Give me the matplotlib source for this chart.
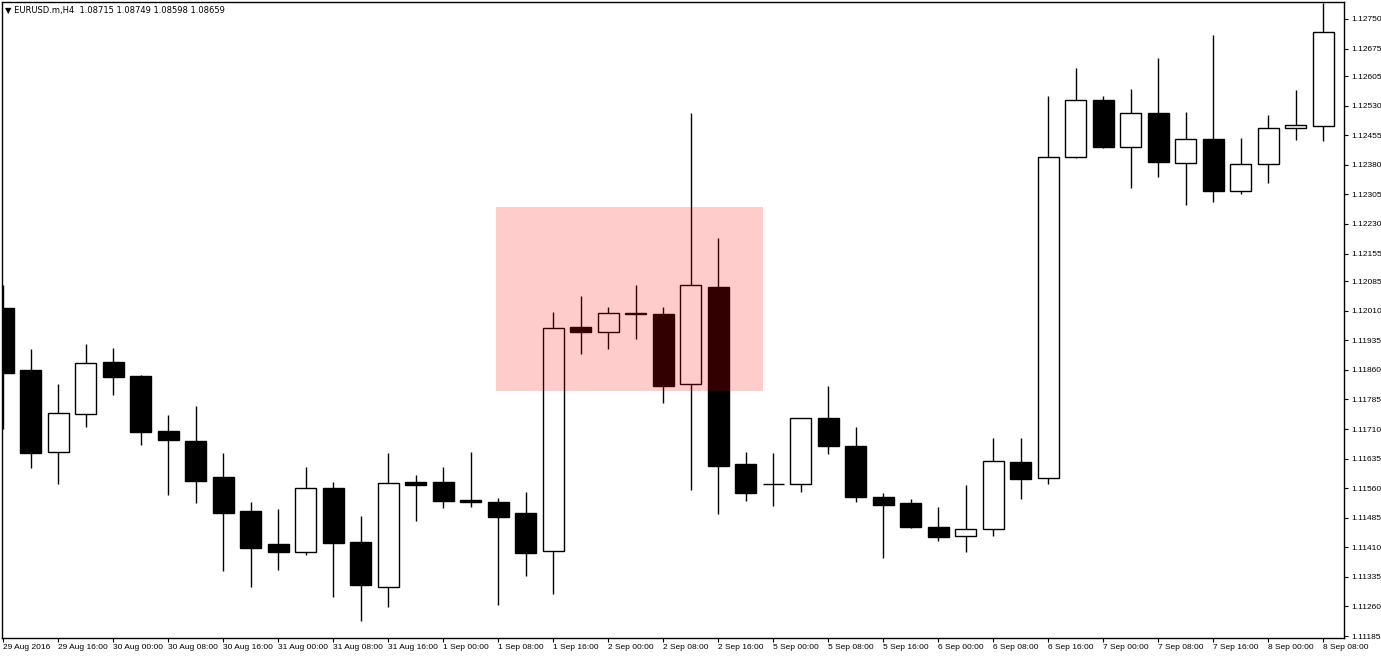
import matplotlib
matplotlib.use("Agg")
import matplotlib.pyplot as plt
from matplotlib.patches import Rectangle

# EURUSD H4 candles, 29 Aug 08:00 .. 8 Sep 08:00
opens = [1.12017, 1.11860, 1.11652, 1.11748, 1.11880, 1.11844, 1.11705, 1.11680,
         1.11588, 1.11502, 1.11418, 1.11398, 1.11560, 1.11423, 1.11309, 1.11576,
         1.11576, 1.11530, 1.11525, 1.11497, 1.11401, 1.11969, 1.11956, 1.12003,
         1.12002, 1.11824, 1.12070, 1.11621, 1.11571, 1.11571, 1.11738, 1.11667,
         1.11538, 1.11522, 1.11461, 1.11439, 1.11456, 1.11626, 1.11586, 1.12400,
         1.12545, 1.12425, 1.12512, 1.12385, 1.12446, 1.12314, 1.12382, 1.12474,
         1.12479]
highs = [1.12075, 1.11913, 1.11824, 1.11926, 1.11916, 1.11847, 1.11746, 1.11768,
         1.11649, 1.11525, 1.11507, 1.11614, 1.11576, 1.11489, 1.11649, 1.11593,
         1.11614, 1.11652, 1.11535, 1.11550, 1.12007, 1.12047, 1.12020, 1.12075,
         1.12020, 1.12512, 1.12195, 1.11652, 1.11649, 1.11738, 1.11819, 1.11715,
         1.11548, 1.11532, 1.11512, 1.11568, 1.11687, 1.11687, 1.12555, 1.12626,
         1.12555, 1.12572, 1.12651, 1.12514, 1.12709, 1.12448, 1.12506, 1.12570,
         1.12791]
lows = [1.11710, 1.11611, 1.11571, 1.11715, 1.11796, 1.11669, 1.11543, 1.11522,
        1.11350, 1.11309, 1.11352, 1.11390, 1.11284, 1.11223, 1.11259, 1.11477,
        1.11510, 1.11512, 1.11264, 1.11337, 1.11292, 1.11900, 1.11913, 1.11938,
        1.11776, 1.11555, 1.11494, 1.11527, 1.11515, 1.11550, 1.11647, 1.11525,
        1.11383, 1.11459, 1.11426, 1.11398, 1.11439, 1.11532, 1.11571, 1.12397,
        1.12423, 1.12321, 1.12349, 1.12278, 1.12286, 1.12306, 1.12334, 1.12443,
        1.12441]
closes = [1.11852, 1.11649, 1.11751, 1.11877, 1.11842, 1.11702, 1.11682, 1.11578,
          1.11497, 1.11408, 1.11398, 1.11560, 1.11421, 1.11314, 1.11573, 1.11568,
          1.11527, 1.11525, 1.11487, 1.11396, 1.11966, 1.11956, 1.12004, 1.12001,
          1.11819, 1.12075, 1.11616, 1.11548, 1.11571, 1.11738, 1.11667, 1.11538,
          1.11517, 1.11461, 1.11436, 1.11456, 1.11629, 1.11583, 1.12400, 1.12545,
          1.12425, 1.12512, 1.12387, 1.12446, 1.12314, 1.12382, 1.12474, 1.12481,
          1.12717]

# one time label every second bar
time_labels = ["29 Aug 2016", "29 Aug 16:00", "30 Aug 00:00", "30 Aug 08:00",
               "30 Aug 16:00", "31 Aug 00:00", "31 Aug 08:00", "31 Aug 16:00",
               "1 Sep 00:00", "1 Sep 08:00", "1 Sep 16:00", "2 Sep 00:00",
               "2 Sep 08:00", "2 Sep 16:00", "5 Sep 00:00", "5 Sep 08:00",
               "5 Sep 16:00", "6 Sep 00:00", "6 Sep 08:00", "6 Sep 16:00",
               "7 Sep 00:00", "7 Sep 08:00", "7 Sep 16:00", "8 Sep 00:00",
               "8 Sep 08:00"]

price_ticks = [1.12750, 1.12675, 1.12605, 1.12530, 1.12455, 1.12380, 1.12305,
               1.12230, 1.12155, 1.12085, 1.12010, 1.11935, 1.11860, 1.11785,
               1.11710, 1.11635, 1.11560, 1.11485, 1.11410, 1.11335, 1.11260,
               1.11185]

header = "\u25bc EURUSD.m,H4  1.08715 1.08749 1.08598 1.08659"

# highlighted zone (bar index range, price range)
zone_bars = (17.93, 27.64)
zone_prices = (1.11806, 1.12273)

W, H = 1381, 657
fig = plt.figure(figsize=(W / 100, H / 100), dpi=100)
ax = fig.add_axes([2 / W, 19 / H, 1342 / W, 636 / H])

n = len(opens)
x = list(range(n))
body_w = 0.76

ax.vlines(x, lows, highs, color="black", lw=1, zorder=1)
bottoms = [min(o, c) for o, c in zip(opens, closes)]
heights = [abs(c - o) for o, c in zip(opens, closes)]
faces = ["white" if c > o else "black" for o, c in zip(opens, closes)]
ax.bar(x, heights, bottom=bottoms, width=body_w, color=faces,
       edgecolor="black", linewidth=1, zorder=2)

ax.add_patch(Rectangle((zone_bars[0], zone_prices[0]),
                       zone_bars[1] - zone_bars[0],
                       zone_prices[1] - zone_prices[0],
                       facecolor="red", alpha=0.2, edgecolor="none", zorder=3))

ax.set_xlim(-0.04, 48.76)
ax.set_ylim(1.11180, 1.12793)

ax.yaxis.tick_right()
ax.set_yticks(price_ticks)
ax.set_yticklabels([f"{p:.5f}" for p in price_ticks])
ax.tick_params(axis="y", direction="out", length=3, width=0.8, pad=2,
               labelsize=6, labelcolor="black")

ax.set_xticks(x[::2])
ax.set_xticklabels(time_labels, ha="left")
ax.tick_params(axis="x", direction="out", length=3, width=0.8, pad=1,
               labelsize=6, labelcolor="black")
for lab in ax.get_xticklabels() + ax.get_yticklabels():
    lab.set_fontfamily("Liberation Sans")

for s in ax.spines.values():
    s.set_linewidth(1)
    s.set_color("black")

fig.text(5 / W, 1 - 10 / H, header, fontsize=6, va="center", ha="left",
         family="DejaVu Sans")

fig.savefig("out.png", dpi=100)
